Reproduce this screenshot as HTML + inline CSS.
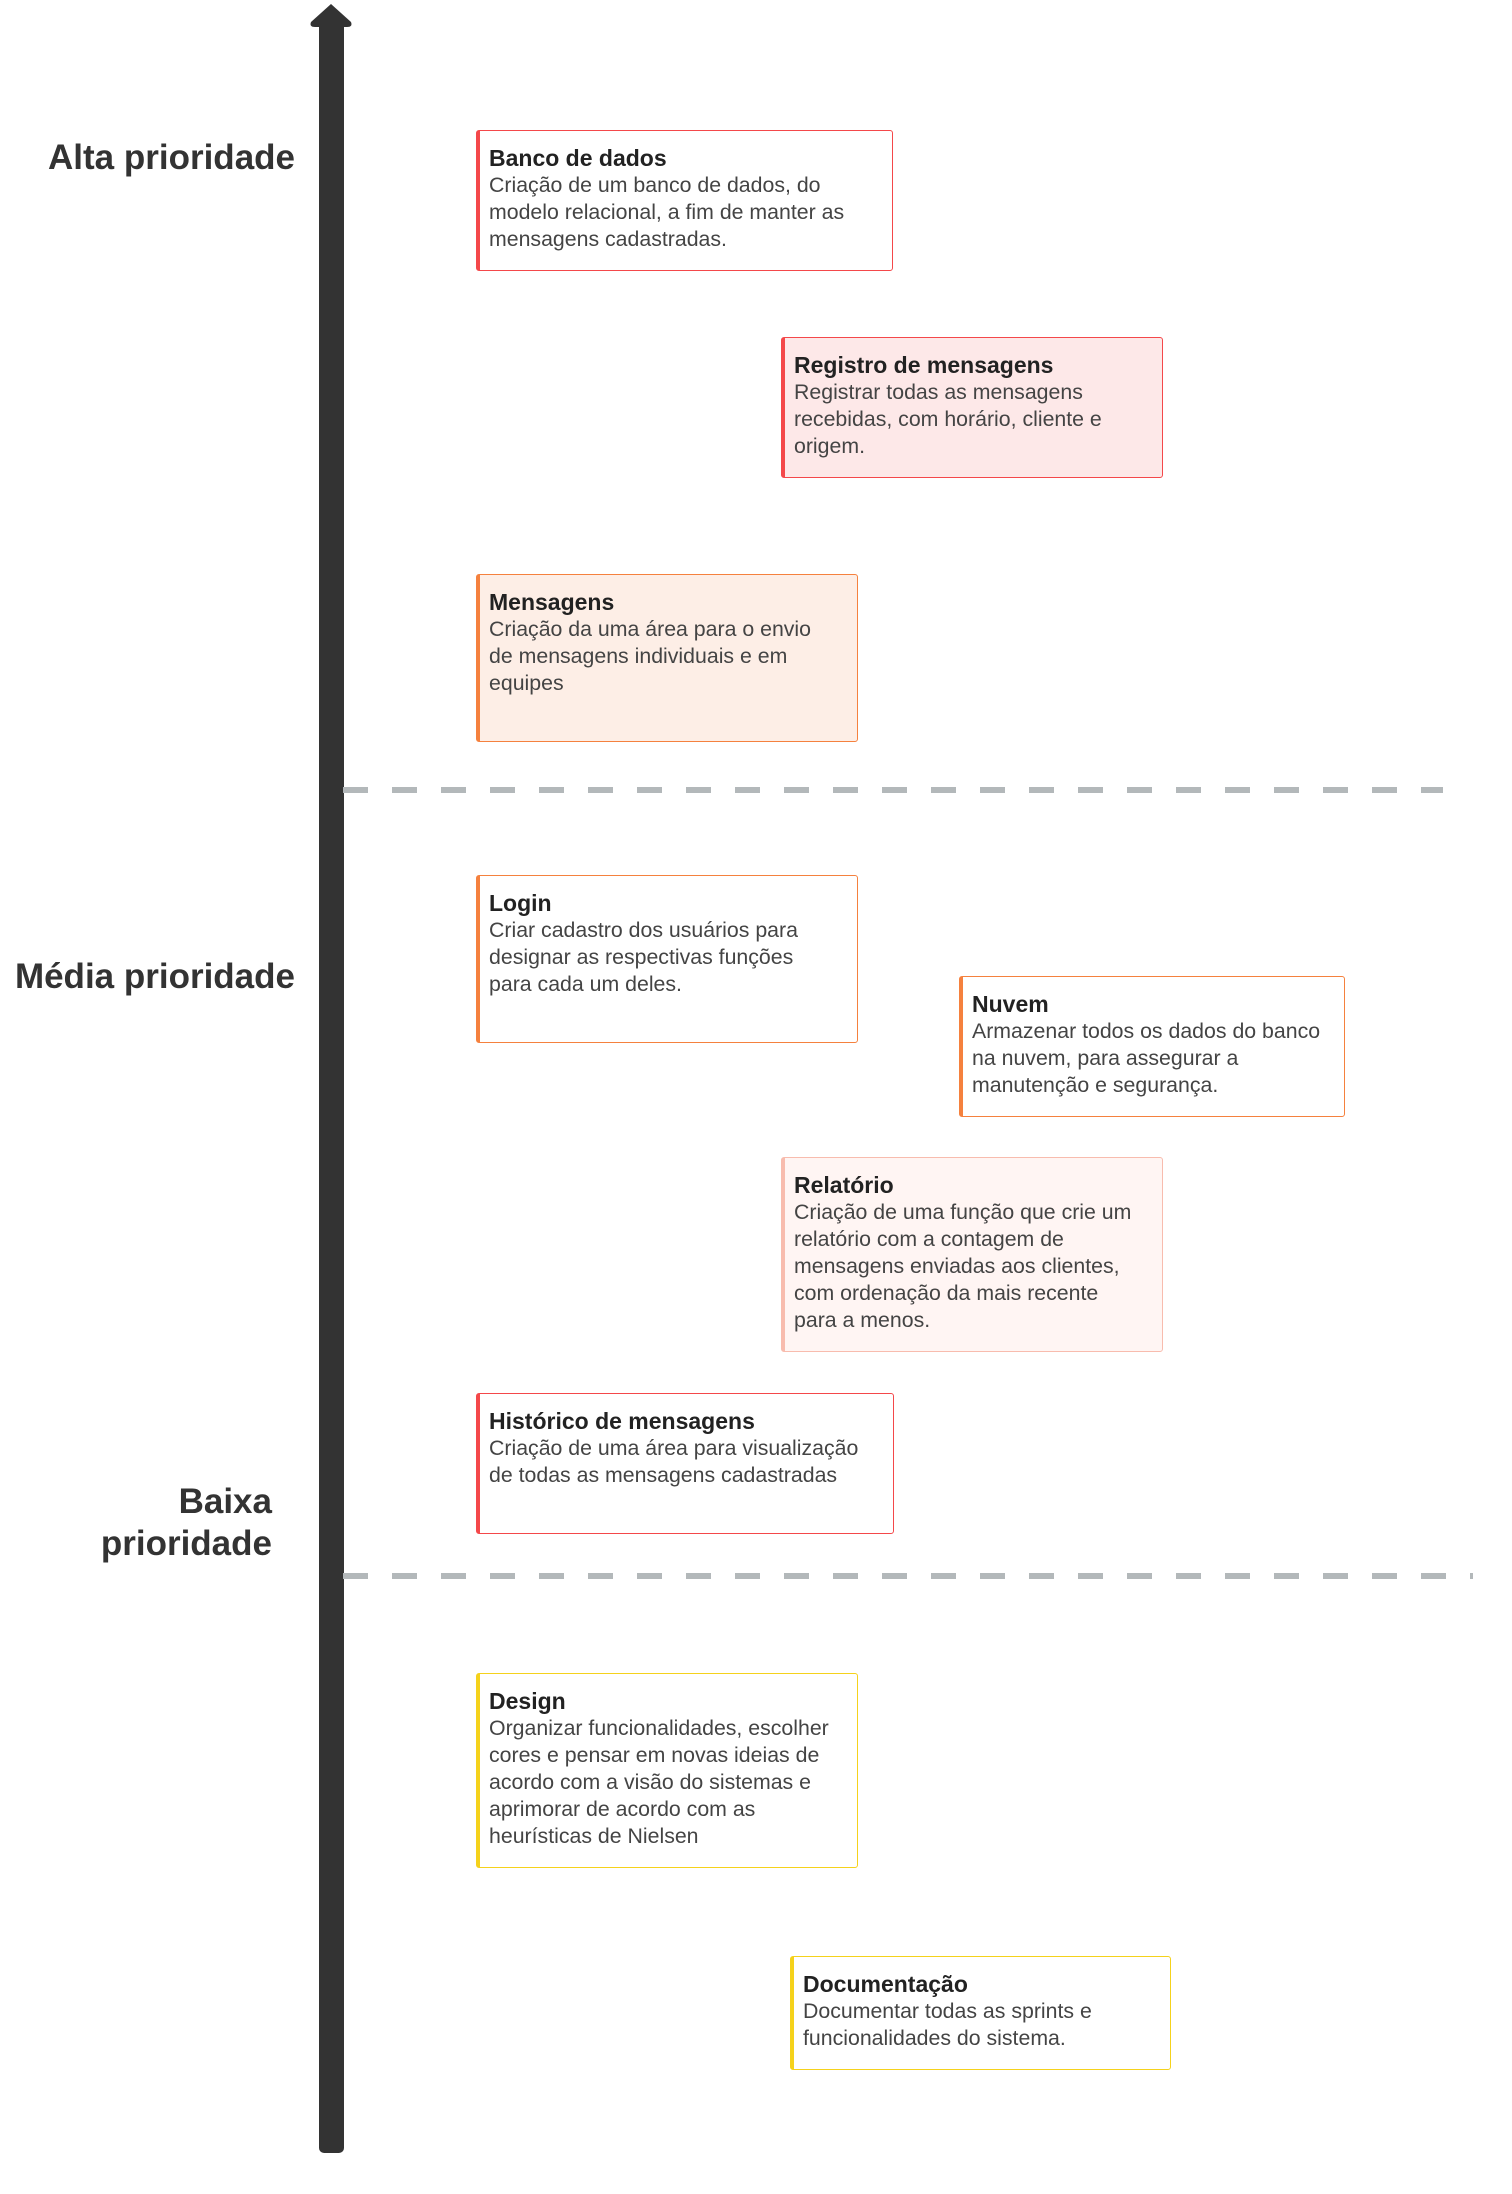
<!DOCTYPE html>
<html><head><meta charset="utf-8"><style>
body{margin:0;width:1512px;height:2194px;background:#fff;position:relative;overflow:hidden;font-family:"Liberation Sans",sans-serif}
.b{position:absolute;box-sizing:border-box;border:1.5px solid;border-left-width:4px;border-radius:3px;padding:13px 4px 0 9px;font-size:21.3px;line-height:27px;color:#444;white-space:nowrap}
.b b{display:block;color:#222;font-size:23px;line-height:28px}
.r{border-color:#f4484a}.o{border-color:#f5813e}.y{border-color:#f5d21b}
.l{position:absolute;font-weight:bold;font-size:35px;color:#333;text-align:right;line-height:42px}
.d{position:absolute;height:6px;background:repeating-linear-gradient(90deg,#b3b8ba 0 25px,transparent 25px 49px)}
</style></head><body>
<svg style="position:absolute;left:0;top:0" width="1512" height="2194">
<rect x="319" y="22" width="25" height="2131" rx="5" fill="#333"/>
<path d="M331 4 L351 22 Q353 27 347 27 L315 27 Q309 27 311 22 Z" fill="#333"/>
</svg>
<div class="d" style="left:343px;top:787px;width:1100px"></div>
<div class="d" style="left:343px;top:1573px;width:1130px"></div>
<div class="l" style="right:1217px;top:137px">Alta prioridade</div>
<div class="l" style="right:1217px;top:956px">Média prioridade</div>
<div class="l" style="right:1240px;top:1481px">Baixa<br>prioridade</div>
<div class="b r" style="left:476px;top:130px;width:417px;height:141px"><b>Banco de dados</b>Criação de um banco de dados, do<br>modelo relacional, a fim de manter as<br>mensagens cadastradas.</div>
<div class="b r" style="left:781px;top:337px;width:382px;height:141px;background:#fde8e8"><b>Registro de mensagens</b>Registrar todas as mensagens<br>recebidas, com horário, cliente e<br>origem.</div>
<div class="b o" style="left:476px;top:574px;width:382px;height:168px;background:#fdeee6"><b>Mensagens</b>Criação da uma área para o envio<br>de mensagens individuais e em<br>equipes</div>
<div class="b o" style="left:476px;top:875px;width:382px;height:168px"><b>Login</b>Criar cadastro dos usuários para<br>designar as respectivas funções<br>para cada um deles.</div>
<div class="b o" style="left:959px;top:976px;width:386px;height:141px"><b>Nuvem</b>Armazenar todos os dados do banco<br>na nuvem, para assegurar a<br>manutenção e segurança.</div>
<div class="b" style="left:781px;top:1157px;width:382px;height:195px;background:#fff5f3;border-color:#f8bcae"><b>Relatório</b>Criação de uma função que crie um<br>relatório com a contagem de<br>mensagens enviadas aos clientes,<br>com ordenação da mais recente<br>para a menos.</div>
<div class="b r" style="left:476px;top:1393px;width:418px;height:141px"><b>Histórico de mensagens</b>Criação de uma área para visualização<br>de todas as mensagens cadastradas</div>
<div class="b y" style="left:476px;top:1673px;width:382px;height:195px"><b>Design</b>Organizar funcionalidades, escolher<br>cores e pensar em novas ideias de<br>acordo com a visão do sistemas e<br>aprimorar de acordo com as<br>heurísticas de Nielsen</div>
<div class="b y" style="left:790px;top:1956px;width:381px;height:114px"><b>Documentação</b>Documentar todas as sprints e<br>funcionalidades do sistema.</div>
</body></html>
